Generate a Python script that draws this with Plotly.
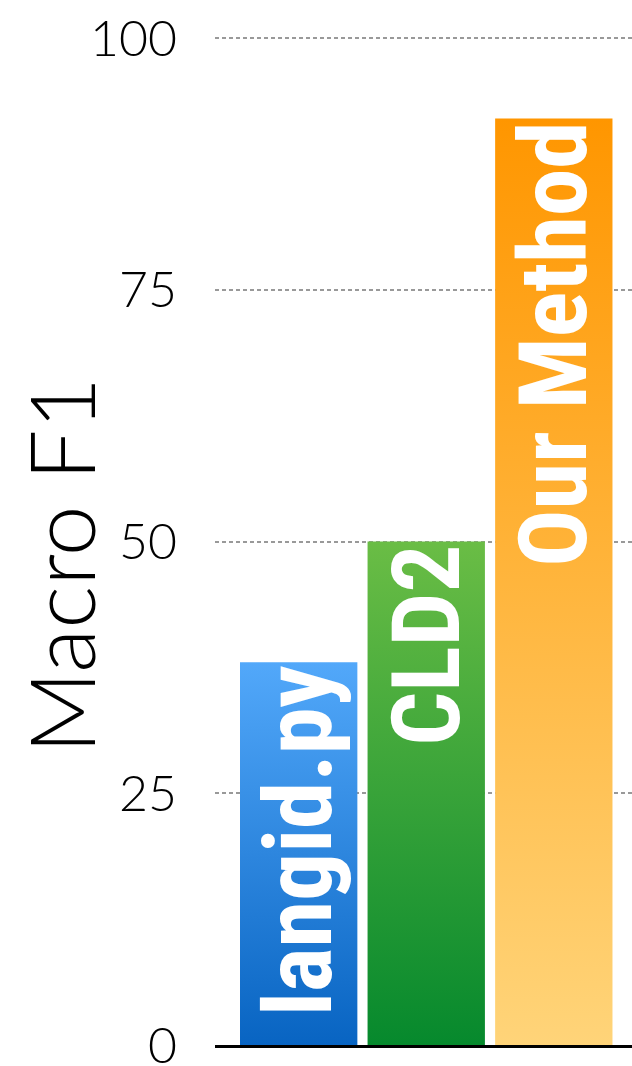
import plotly.graph_objects as go

methods = ["langid.py", "CLD2", "Our Method"]
macro_f1 = [38.0, 50.0, 92.0]
top_colors = ["#52a8fa", "#6abd45", "#ff9600"]
bottom_colors = ["#0864c2", "#06892d", "#ffd479"]
y_ticks = [0, 25, 50, 75, 100]

BAR_W = 0.92
X_RANGE = [-0.656, 2.613]
Y_RANGE = [0, 101]
xs = list(range(len(methods)))

fig = go.Figure()

# gradient fills for each bar (drawn from the data values)
for i, (v, top, bot) in enumerate(zip(macro_f1, top_colors, bottom_colors)):
    x0, x1 = xs[i] - BAR_W / 2, xs[i] + BAR_W / 2
    fig.add_trace(go.Scatter(
        x=[x0, x1, x1, x0, x0], y=[0, 0, v, v, 0],
        mode="lines", line=dict(width=0), fill="toself",
        fillgradient=dict(type="vertical", start=0, stop=v,
                          colorscale=[[0, bot], [1, top]]),
        hoverinfo="skip", showlegend=False,
    ))

# bars with their labels on an overlaid axis pair so the text sits on top
fig.add_trace(go.Bar(
    x=xs, y=macro_f1, width=BAR_W, text=methods,
    xaxis="x2", yaxis="y2",
    marker=dict(color="rgba(0,0,0,0)", line=dict(width=0)),
    textposition="inside", insidetextanchor="end", textangle=-90,
    insidetextfont=dict(family="Roboto Condensed, sans-serif",
                        size=95, color="white", weight=700),
    showlegend=False,
))

fig.update_layout(
    width=632, height=1066,
    margin=dict(l=215, r=0, t=28, b=21),
    paper_bgcolor="white", plot_bgcolor="white",
    showlegend=False,
    xaxis2=dict(overlaying="x", range=X_RANGE, visible=False),
    yaxis2=dict(overlaying="y", range=Y_RANGE, visible=False),
    xaxis=dict(range=X_RANGE, showticklabels=False, ticks="", showgrid=False,
               zeroline=False, showline=True, linecolor="black", linewidth=3),
    yaxis=dict(
        range=Y_RANGE, tickvals=y_ticks, ticktext=[str(t) for t in y_ticks],
        showgrid=True, gridcolor="#999999", gridwidth=1.5, griddash="4px,3px",
        zeroline=False, showline=False, ticks="", ticklabelstandoff=37,
        ticklabeloverflow="allow",
        tickfont=dict(family="Lato, Roboto, sans-serif", size=50, color="black", weight=300),
        automargin=False,
    ),
    annotations=[dict(
        text="Macro F1", textangle=-90, showarrow=False,
        xref="paper", yref="paper", x=-0.372, y=0.472,
        xanchor="center", yanchor="middle",
        font=dict(family="Lato, Roboto, sans-serif", size=91, color="black", weight=300),
    )],
)

fig.write_html("out.html")
